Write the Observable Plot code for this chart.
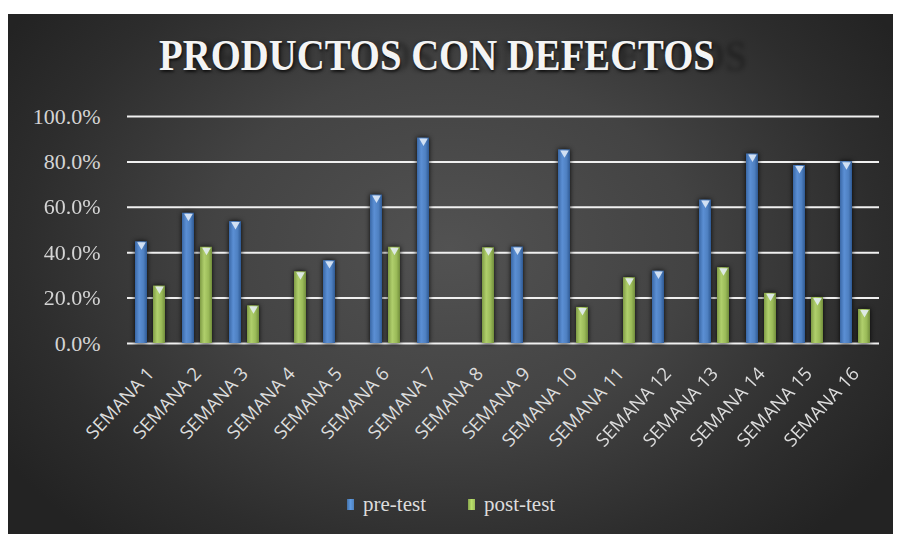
<!DOCTYPE html>
<html>
<head>
<meta charset="utf-8">
<script src="https://cdn.jsdelivr.net/npm/d3@7"></script>
<script src="https://cdn.jsdelivr.net/npm/@observablehq/plot@0.6"></script>
<style>
  html, body { margin: 0; padding: 0; background: #ffffff; }
  #page { position: relative; width: 898px; height: 534px; overflow: hidden; background: #fff; }
  #panel { position: absolute; left: 8px; top: 14px; width: 885px; height: 520px;
    background: radial-gradient(ellipse 60% 75% at 50% 45%, #525252 0%, #434343 45%, #2d2d2d 80%, #232323 100%); }
  #title { position: absolute; left: 0; top: 30px; width: 874px; text-align: center;
    font-family: "Liberation Serif", "Times New Roman", serif; font-weight: bold; font-size: 44px;
    color: #f4f4f4; transform: scaleX(0.88); transform-origin: 437px 0;
    text-shadow: 1px 2px 3px rgba(0,0,0,0.7), 36px 1px 5px rgba(0,0,0,0.28); }
  #chart { position: absolute; left: 0; top: 90px; }
  #chart g[aria-label="bar"] { filter: drop-shadow(0 0 2.5px rgba(0,0,0,0.9)); }
  #legend { position: absolute; top: 492px; left: 0; width: 898px; height: 26px;
    font-family: "Liberation Serif", "Times New Roman", serif; font-size: 21px; color: #dcdcdc; }
  .item { position: absolute; top: 0; display: flex; align-items: center; }
  .sw { width: 7px; height: 11px; margin-right: 9px; }
</style>
</head>
<body>
<div id="page">
  <div id="panel"></div>
  <div id="title">PRODUCTOS CON DEFECTOS</div>
  <div id="chart"></div>
  <div id="legend"></div>
</div>
<script>
const categories = ["SEMANA 1","SEMANA 2","SEMANA 3","SEMANA 4","SEMANA 5","SEMANA 6","SEMANA 7","SEMANA 8",
  "SEMANA 9","SEMANA 10","SEMANA 11","SEMANA 12","SEMANA 13","SEMANA 14","SEMANA 15","SEMANA 16"];
const series = ["pre-test", "post-test"];
const preTest  = [44.8, 57.4, 53.7, null, 36.5, 65.4, 90.5, null, 42.5, 85.3, null, 31.9, 63.2, 83.5, 78.4, 80.1];
const postTest = [25.3, 42.4, 16.6, 31.6, null, 42.4, null, 42.2, null, 15.9, 29.0, null, 33.4, 22.1, 20.3, 15.0];
const yTicks = [0, 20, 40, 60, 80, 100];
const seriesColors = ["#4f81bd", "#9bbb59"];

const rows = [];
categories.forEach((c, i) => {
  if (preTest[i] != null) rows.push({semana: c, serie: series[0], valor: preTest[i]});
  if (postTest[i] != null) rows.push({semana: c, serie: series[1], valor: postTest[i]});
});

const chart = Plot.plot({
  width: 898,
  height: 380,
  marginLeft: 124,
  marginRight: 16,
  marginTop: 26,
  marginBottom: 127,
  style: {background: "transparent", color: "#d9d9d9", overflow: "visible"},
  fx: {domain: categories, padding: 0, label: null},
  x: {domain: series, paddingInner: 0.316, paddingOuter: 0.4, axis: null},
  y: {domain: [0, 100], label: null},
  color: {domain: series, range: ["url(#gradPre)", "url(#gradPost)"]},
  marks: [
    Plot.ruleY(yTicks, {stroke: "#f0f0f0", strokeWidth: 2}),
    Plot.barY(rows, {fx: "semana", x: "serie", y: "valor", fill: "serie"}),
    Plot.dot(rows, {fx: "semana", x: "serie", y: "valor", symbol: "triangle", rotate: 180, r: 3.2, dy: 3,
      fill: "#e8f0fa", fillOpacity: 0.85, stroke: "none"}),
    Plot.axisY(yTicks, {tickSize: 0, tickPadding: 27, label: null, tickFormat: d => d.toFixed(1) + "%",
      fontFamily: "Liberation Serif, Times New Roman, serif", fontSize: 22, fill: "#d4d4d4"}),
    Plot.axisFx({anchor: "bottom", tickRotate: -47, tickSize: 0, tickPadding: 27, label: null,
      fontFamily: "Open Sans, Noto Sans, sans-serif", fontSize: 18.5, fill: "#dcdcdc"})
  ]
});

// gradients for bevelled bars
const ns = "http://www.w3.org/2000/svg";
const defs = document.createElementNS(ns, "defs");
function addGrad(id, stops) {
  const g = document.createElementNS(ns, "linearGradient");
  g.setAttribute("id", id);
  g.setAttribute("x1", "0"); g.setAttribute("x2", "1"); g.setAttribute("y1", "0"); g.setAttribute("y2", "0");
  stops.forEach(([o, c]) => {
    const s = document.createElementNS(ns, "stop");
    s.setAttribute("offset", o); s.setAttribute("stop-color", c);
    g.appendChild(s);
  });
  defs.appendChild(g);
}
addGrad("gradPre", [["0", "#3a68a6"], ["0.35", "#5b8fd4"], ["0.7", "#4f81c2"], ["1", "#2f5a94"]]);
addGrad("gradPost", [["0", "#7f9c45"], ["0.35", "#b0cf6c"], ["0.7", "#9bbb59"], ["1", "#728e3c"]]);
chart.insertBefore(defs, chart.firstChild);

document.getElementById("chart").appendChild(chart);

// legend
const legend = document.getElementById("legend");
const legendX = [347, 468];
series.forEach((s, i) => {
  const item = document.createElement("div");
  item.className = "item";
  item.style.left = legendX[i] + "px";
  const sw = document.createElement("div");
  sw.className = "sw";
  sw.style.background = `linear-gradient(90deg, ${d3.color(seriesColors[i]).darker(0.4)}, ${d3.color(seriesColors[i]).brighter(0.5)}, ${seriesColors[i]})`;
  const t = document.createElement("span");
  t.textContent = s;
  item.appendChild(sw); item.appendChild(t);
  legend.appendChild(item);
});
</script>
</body>
</html>
